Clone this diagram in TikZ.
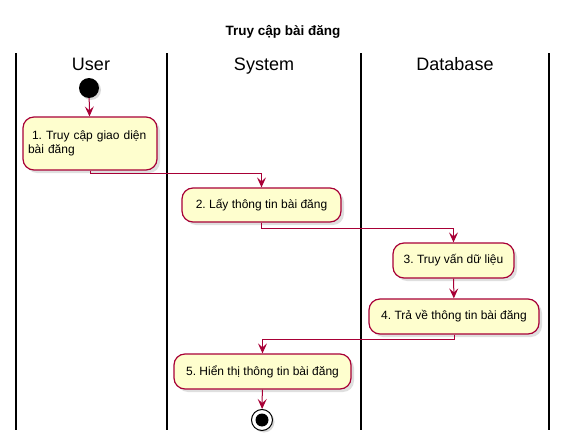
\documentclass[tikz,border=0pt]{standalone}
\usepackage{fontspec}
\setmainfont{Liberation Sans}
\usetikzlibrary{arrows.meta,shadows}
\frenchspacing

\definecolor{umlred}{HTML}{A80036}
\definecolor{umlfill}{HTML}{FEFECE}

\begin{document}
\begin{tikzpicture}[x=1pt,y=-1pt,
	act/.style={draw=umlred, fill=umlfill, line width=1.2pt, rounded corners=11pt,
		inner sep=0pt, font=\fontsize{12}{14.5}\selectfont,
		drop shadow={shadow xshift=3pt, shadow yshift=-3pt, fill=black!25}},
	flow/.style={draw=umlred, line width=1pt, -{Stealth[length=10pt,width=9pt,inset=4pt]}},
	lane/.style={anchor=base, font=\fontsize{18}{21}\selectfont}]
	\useasboundingbox (0,0) rectangle (566,447);

	% swimlanes
	\foreach \x in {16,167,361,549} {
		\draw[line width=1.5pt] (\x,53)--(\x,430);
	}
	\node[anchor=base, font=\bfseries\fontsize{13.5}{16}\selectfont] (title) at (283,35) {Truy cập bài đăng};
	\node[lane] (user) at (91,70.5) {User};
	\node[lane] (system) at (264,70.5) {System};
	\node[lane] (db) at (455,70.5) {Database};

	% activities
	\node[circle, fill=black, minimum size=20pt, inner sep=0pt,
		drop shadow={shadow xshift=2pt, shadow yshift=-2pt, fill=black!30}] (start) at (89,88) {};
	\node[act, minimum width=134pt, minimum height=53pt, text width=124pt, align=left] (a1) at (90,143.5)
		{\ 1. Truy cập giao diện\\bài đăng};
	\node[act, minimum width=159pt, minimum height=34pt] (a2) at (261.5,205) {2. Lấy thông tin bài đăng};
	\node[act, minimum width=121pt, minimum height=35pt] (a3) at (453.5,260.5) {3. Truy vấn dữ liệu};
	\node[act, minimum width=170pt, minimum height=35pt] (a4) at (454,316.5) {4. Trả về thông tin bài đăng};
	\node[act, minimum width=177pt, minimum height=35pt] (a5) at (262.5,371.5) {5. Hiển thị thông tin bài đăng};
	\node[circle, draw=black, fill=white, line width=1pt, minimum size=21pt, inner sep=0pt,
		drop shadow={shadow xshift=2pt, shadow yshift=-2pt, fill=black!30}] (stop) at (262,420) {};
	\fill (stop) circle (6.5pt);

	% flows
	\draw[flow] (start) -- (a1);
	\draw[flow] (a1.south) -- ++(0,3) -| (a2.north);
	\draw[flow] (a2.south) -- ++(0,6) -| (a3.north);
	\draw[flow] (a3) -- (a4);
	\draw[flow] (a4.south) -- ++(0,5) -| (a5.north);
	\draw[flow] (a5) -- (stop);
\end{tikzpicture}
\end{document}
